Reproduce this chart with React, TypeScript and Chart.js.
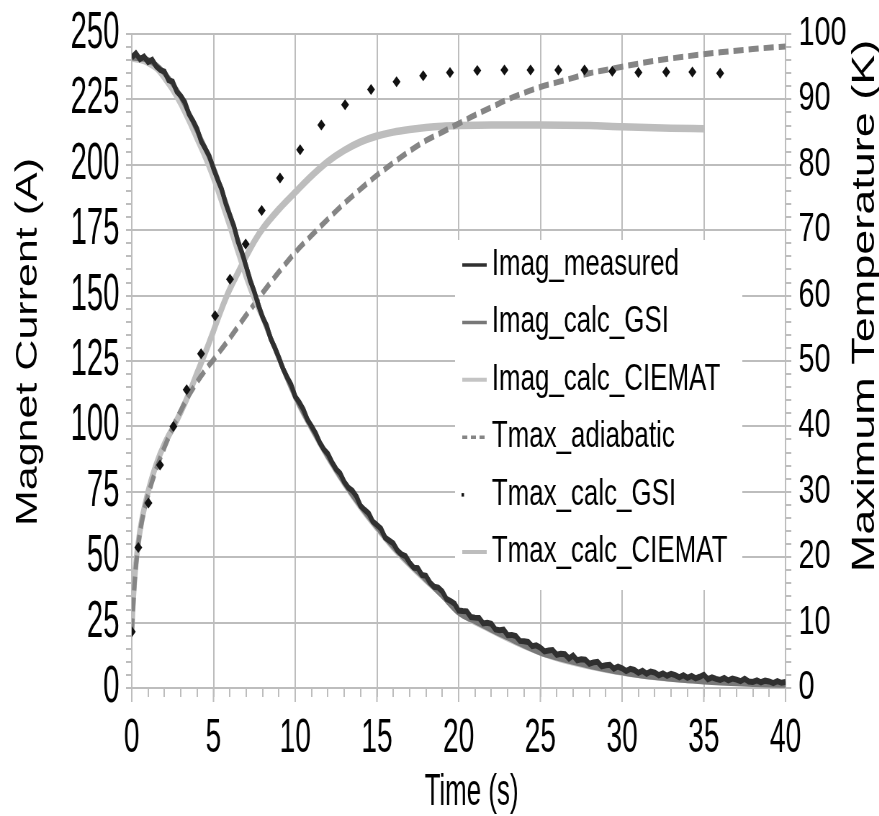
import React, { useEffect, useRef } from 'react';
import { Chart, registerables } from 'chart.js';

Chart.register(...registerables);

// ---------------- data ----------------
const seriesNames = [
  'Imag_measured',
  'Imag_calc_GSI',
  'Imag_calc_CIEMAT',
  'Tmax_adiabatic',
  'Tmax_calc_GSI',
  'Tmax_calc_CIEMAT',
];

const xTitle = 'Time (s)';
const yLeftTitle = 'Magnet Current (A)';
const yRightTitle = 'Maximum Temperature (K)';

const xTickLabels = [0, 5, 10, 15, 20, 25, 30, 35, 40];
const yLeftTickLabels = [0, 25, 50, 75, 100, 125, 150, 175, 200, 225, 250];
const yRightMajor = 10;

// measured current, sampled every 0.25 s from 0 to 40 s
const measuredStart = 0;
const measuredStep = 0.25;
const imagMeasured = [
  241.0, 242.6, 240.4, 241.4, 239.3, 240.1, 237.6, 236.2, 235.6, 232.4,
  231.8, 228.0, 226.3, 223.9, 219.4, 216.8, 213.7, 208.9, 206.2, 203.3,
  198.5, 194.4, 190.7, 185.1, 180.8, 176.6, 170.6, 166.4, 161.2, 155.6,
  151.5, 146.3, 141.8, 138.6, 133.5, 130.2, 126.4, 122.1, 118.9, 116.0,
  111.4, 109.2, 106.5, 102.6, 100.1, 97.4, 93.8, 91.2, 89.5, 86.3,
  83.7, 82.1, 78.8, 76.6, 75.4, 73.2, 69.6, 68.1, 66.7, 63.6,
  62.3, 60.9, 57.5, 56.4, 55.3, 52.6, 51.1, 50.4, 47.9, 46.0,
  45.8, 43.2, 42.9, 40.3, 38.7, 38.4, 36.9, 34.1, 33.3, 32.2,
  29.6, 29.4, 29.3, 27.1, 26.9, 26.8, 24.7, 24.9, 24.5, 22.4,
  22.1, 22.3, 20.2, 20.3, 19.9, 18.0, 17.9, 17.6, 16.0, 16.3,
  15.4, 14.0, 14.3, 14.5, 12.7, 13.1, 12.9, 11.3, 12.4, 10.6,
  11.0, 10.8, 9.3, 9.8, 10.0, 8.3, 8.7, 8.9, 7.4, 8.2,
  7.5, 6.5, 7.3, 6.9, 5.8, 6.6, 5.5, 6.3, 5.9, 4.9,
  5.6, 4.7, 5.4, 4.9, 4.1, 4.9, 3.9, 4.6, 3.7, 4.3,
  5.0, 3.4, 4.1, 3.5, 3.1, 3.8, 2.9, 3.6, 3.2, 2.6,
  3.5, 2.5, 2.3, 2.9, 2.2, 2.8, 2.5, 1.9, 2.6, 2.0,
  2.3,
];

const gsiImagTime = [
  0, 1, 2, 3, 4, 5, 6, 7, 8, 9, 10, 11, 12, 13, 14, 15, 16, 17, 18, 19, 20,
  21, 22, 23, 24, 25, 26, 27, 28, 29, 30, 31, 32, 33, 34, 35, 36, 37, 38, 39, 40,
];
const imagGsi = [
  241, 240, 235, 226, 213, 199, 181, 161, 142, 126, 111.5, 99.5, 88.5, 78.5,
  69.5, 61.5, 54, 47.5, 41.5, 35.3, 28.8, 25.5, 22.3, 19.3, 16.3, 13.5, 11.6,
  10, 8.5, 7.2, 6, 5, 4.2, 3.5, 3, 2.5, 2.1, 1.8, 1.5, 1.3, 1.2,
];

const ciematImagTime = [
  0, 0.5, 1, 1.5, 2, 2.5, 3, 3.5, 4, 4.5, 5, 5.5, 6, 6.5, 7, 7.5, 8, 9, 10,
  11, 12, 13, 14, 15, 16, 17, 18, 19, 20, 22, 24, 26, 28, 30, 32, 34, 35,
];
const imagCiemat = [
  240.5, 240, 238.8, 236.8, 233, 228.5, 223, 216.5, 209.5, 202.5, 194.5, 185.5,
  176, 166.3, 156.8, 148.5, 141.5, 126, 111, 99, 88, 78, 69, 61, 53.5, 47, 41,
  35.3, 29, 22, 16, 11.3, 8.2, 5.8, 4.1, 3, 2.6,
];

const adiabaticTime = [
  0, 0.1, 0.2, 0.4, 0.7, 1, 1.5, 2, 2.5, 3, 3.5, 4, 4.5, 5, 6, 7, 8, 9, 10,
  11, 12, 13, 14, 15, 16, 17, 18, 19, 20, 21, 22, 23, 24, 25, 26, 27, 28, 29,
  30, 32, 34, 36, 38, 40,
];
const tmaxAdiabatic = [
  8.5, 13, 17, 22, 26.5, 29.5, 33.5, 36.8, 39.8, 42.4, 44.8, 46.8, 48.6, 50.2,
  53.5, 57, 60.4, 63.6, 66.6, 69.2, 71.7, 74.1, 76.3, 78.4, 80.3, 82.1, 83.7,
  85, 86.3, 87.6, 88.8, 90, 91, 91.9, 92.6, 93.3, 94, 94.5, 95, 95.9, 96.6,
  97.2, 97.7, 98.1,
];

const gsiTmaxTime = [
  0, 0.4, 1.02, 1.73, 2.55, 3.36, 4.24, 5.1, 6.01, 6.97, 7.95, 9.07, 10.3,
  11.6, 13.05, 14.64, 16.2, 17.83, 19.47, 21.14, 22.8, 24.4, 26.1, 27.7, 29.4,
  31.0, 32.7, 34.3, 36.0,
];
const tmaxGsi = [
  8.6, 21.5, 28.3, 34.1, 40, 45.6, 51.1, 56.9, 62.5, 67.9, 73, 78, 82.3, 86.1,
  89.2, 91.5, 92.7, 93.6, 94.1, 94.4, 94.5, 94.5, 94.5, 94.5, 94.3, 94.1, 94.2,
  94.2, 94.0,
];

const ciematTmaxTime = [
  0, 0.1, 0.25, 0.5, 1, 1.5, 2, 2.5, 3, 3.5, 4, 4.5, 5, 5.5, 6, 6.5, 7, 7.5,
  8, 9, 10, 11, 12, 13, 14, 15, 16, 17, 18, 19, 20, 22, 25, 28, 30, 33, 35,
];
const tmaxCiemat = [
  8.8, 14, 19, 24, 30, 34.2, 37.3, 39.7, 42.2, 45, 48.2, 51.3, 54.6, 58, 61,
  63.5, 66, 68.3, 70.2, 73.2, 75.8, 78.3, 80.5, 82.2, 83.5, 84.4, 85, 85.4,
  85.7, 85.9, 86, 86.1, 86.1, 86, 85.8, 85.6, 85.5,
];

// ---------------- styling ----------------
const SCALE_X = 0.72;
const CANVAS_W = 1221;
const CANVAS_H = 816;
const GRID = '#bdbdbd';
const ARIAL = "'Liberation Sans', Arial, sans-serif";
const NARROW_X = 0.8; // horizontal condensing applied to tick labels and the time title

const COLORS = ['#303030', '#787878', '#c4c4c4', '#858585', '#111111', '#bdbdbd'];

const pts = (xs: number[], ys: number[]) => xs.map((x, i) => ({ x, y: ys[i] }));

const drawCondensed = (ctx: any, text: string, x: number, y: number, align: string) => {
  ctx.save();
  ctx.translate(x, y);
  ctx.scale(NARROW_X, 1);
  ctx.textAlign = align;
  ctx.fillText(text, 0, 0);
  ctx.restore();
};

const textPlugin = {
  id: 'texts',
  afterDraw(chart: any) {
    const ctx = chart.ctx;
    const sx = chart.scales.x;
    const sy = chart.scales.y;
    ctx.save();

    // longer major tick marks on the time axis
    ctx.strokeStyle = GRID;
    ctx.lineWidth = 2;
    xTickLabels.forEach((v) => {
      const px = sx.getPixelForValue(v);
      ctx.beginPath();
      ctx.moveTo(px, sx.top);
      ctx.lineTo(px, sx.top + 14);
      ctx.stroke();
    });

    ctx.fillStyle = '#000';
    // tick labels (condensed)
    ctx.font = `51px ${ARIAL}`;
    ctx.textBaseline = 'middle';
    yLeftTickLabels.forEach((v) => {
      drawCondensed(ctx, String(v), 166, sy.getPixelForValue(v), 'right');
    });
    ctx.font = `49px ${ARIAL}`;
    ctx.textBaseline = 'alphabetic';
    xTickLabels.forEach((v) => {
      drawCondensed(ctx, String(v), sx.getPixelForValue(v), 752, 'center');
    });

    // x title
    ctx.font = `45px ${ARIAL}`;
    drawCondensed(ctx, xTitle, 655, 805, 'center');

    // left title
    ctx.font = `43px ${ARIAL}`;
    ctx.textAlign = 'center';
    ctx.textBaseline = 'alphabetic';
    ctx.save();
    ctx.translate(51, 342);
    ctx.rotate(-Math.PI / 2);
    ctx.fillText(yLeftTitle, 0, 0);
    ctx.restore();
    // right title
    ctx.font = `45px ${ARIAL}`;
    ctx.save();
    ctx.translate(1214, 306);
    ctx.rotate(-Math.PI / 2);
    ctx.fillText(yRightTitle, 0, 0);
    ctx.restore();

    // legend
    const bx = 632, by = 240, bw = 399, bh = 350;
    ctx.fillStyle = '#fff';
    ctx.fillRect(bx, by, bw, bh);
    const rowY0 = 265, rowStep = 57.4;
    const sx0 = 642, sx1 = 676, tx = 683;
    ctx.font = `36px ${ARIAL}`;
    ctx.textAlign = 'left';
    ctx.textBaseline = 'middle';
    seriesNames.forEach((name, i) => {
      const y = rowY0 + i * rowStep;
      ctx.save();
      ctx.strokeStyle = COLORS[i];
      ctx.fillStyle = COLORS[i];
      if (i === 4) {
        ctx.fillRect(sx0 - 1, y - 1.5, 3.5, 3.5);
      } else {
        ctx.lineWidth = i === 2 || i === 5 ? 4 : 3.5;
        if (i === 3) ctx.setLineDash([7, 5]);
        ctx.beginPath();
        ctx.moveTo(sx0, y);
        ctx.lineTo(sx1, y);
        ctx.stroke();
      }
      ctx.restore();
      ctx.fillStyle = '#000';
      ctx.fillText(name, tx, y);
    });
    ctx.restore();
  },
};

export default function App() {
  const canvasRef = useRef<HTMLCanvasElement | null>(null);

  useEffect(() => {
    const canvas = canvasRef.current;
    if (!canvas) return;
    const measuredPts = imagMeasured.map((y, i) => ({ x: measuredStart + i * measuredStep, y }));

    const chart = new Chart(canvas, {
      type: 'line',
      data: {
        datasets: [
          {
            label: seriesNames[0], data: measuredPts, yAxisID: 'y', order: 0,
            borderColor: COLORS[0], borderWidth: 6, pointRadius: 0, tension: 0,
          },
          {
            label: seriesNames[1], data: pts(gsiImagTime, imagGsi), yAxisID: 'y', order: 2,
            borderColor: COLORS[1], borderWidth: 6, pointRadius: 0, cubicInterpolationMode: 'monotone',
          },
          {
            label: seriesNames[2], data: pts(ciematImagTime, imagCiemat), yAxisID: 'y', order: 3,
            borderColor: COLORS[2], borderWidth: 6, pointRadius: 0, cubicInterpolationMode: 'monotone',
          },
          {
            label: seriesNames[3], data: pts(adiabaticTime, tmaxAdiabatic), yAxisID: 'y1', order: 4,
            borderColor: COLORS[3], borderWidth: 6, borderDash: [14, 7], pointRadius: 0,
            cubicInterpolationMode: 'monotone',
          },
          {
            label: seriesNames[4], data: pts(gsiTmaxTime, tmaxGsi), yAxisID: 'y1', order: 1,
            showLine: false, pointStyle: 'rectRot', pointRadius: 5.5, pointBorderWidth: 0,
            pointBackgroundColor: COLORS[4], borderColor: COLORS[4],
          },
          {
            label: seriesNames[5], data: pts(ciematTmaxTime, tmaxCiemat), yAxisID: 'y1', order: 5,
            borderColor: COLORS[5], borderWidth: 7.5, pointRadius: 0, cubicInterpolationMode: 'monotone',
          },
        ] as any,
      },
      options: {
        animation: false,
        responsive: false,
        maintainAspectRatio: false,
        events: [],
        layout: { padding: { top: 31, left: 0, right: 0, bottom: 0 } },
        plugins: {
          legend: { display: false },
          tooltip: { enabled: false },
          title: { display: false },
        },
        scales: {
          x: {
            type: 'linear', min: 0, max: 40, position: 'bottom',
            ticks: { stepSize: 1, autoSkip: false, display: false },
            grid: {
              color: (c: any) => (c.tick && c.tick.value % 5 === 0 ? GRID : 'rgba(0,0,0,0)'),
              lineWidth: 2, tickColor: GRID, tickLength: 9, tickWidth: 2,
            },
            border: { display: true, color: GRID, width: 2 },
            afterFit: (s: any) => { s.height = 128; },
          },
          y: {
            type: 'linear', position: 'left', min: 0, max: 250,
            ticks: { stepSize: 5, autoSkip: false, display: false },
            grid: {
              color: (c: any) => (c.tick && c.tick.value % 25 === 0 ? GRID : 'rgba(0,0,0,0)'),
              lineWidth: 2, tickColor: GRID, tickLength: 8, tickWidth: 2,
            },
            border: { display: true, color: GRID, width: 2 },
            afterFit: (s: any) => { s.width = 183; },
          },
          y1: {
            type: 'linear', position: 'right', min: 0, max: 100,
            ticks: {
              stepSize: 2, autoSkip: false, padding: 10, color: '#000',
              font: { family: ARIAL, size: 40 },
              callback: (v: any) => (Number(v) % yRightMajor === 0 ? String(v) : ''),
            },
            grid: {
              drawOnChartArea: false, color: GRID, lineWidth: 2, tickColor: GRID, tickLength: 8, tickWidth: 2,
            },
            border: { display: true, color: GRID, width: 2 },
            afterFit: (s: any) => { s.width = 130; },
          },
        },
      } as any,
      plugins: [textPlugin],
    });
    return () => chart.destroy();
  }, []);

  return (
    <div style={{ position: 'absolute', left: 0, top: 0, width: 879, height: 816, overflow: 'hidden', background: '#fff' }}>
      <div style={{ width: CANVAS_W, height: CANVAS_H, transform: `scaleX(${SCALE_X})`, transformOrigin: '0 0' }}>
        <canvas ref={canvasRef} width={CANVAS_W} height={CANVAS_H} style={{ display: 'block' }} />
      </div>
    </div>
  );
}
